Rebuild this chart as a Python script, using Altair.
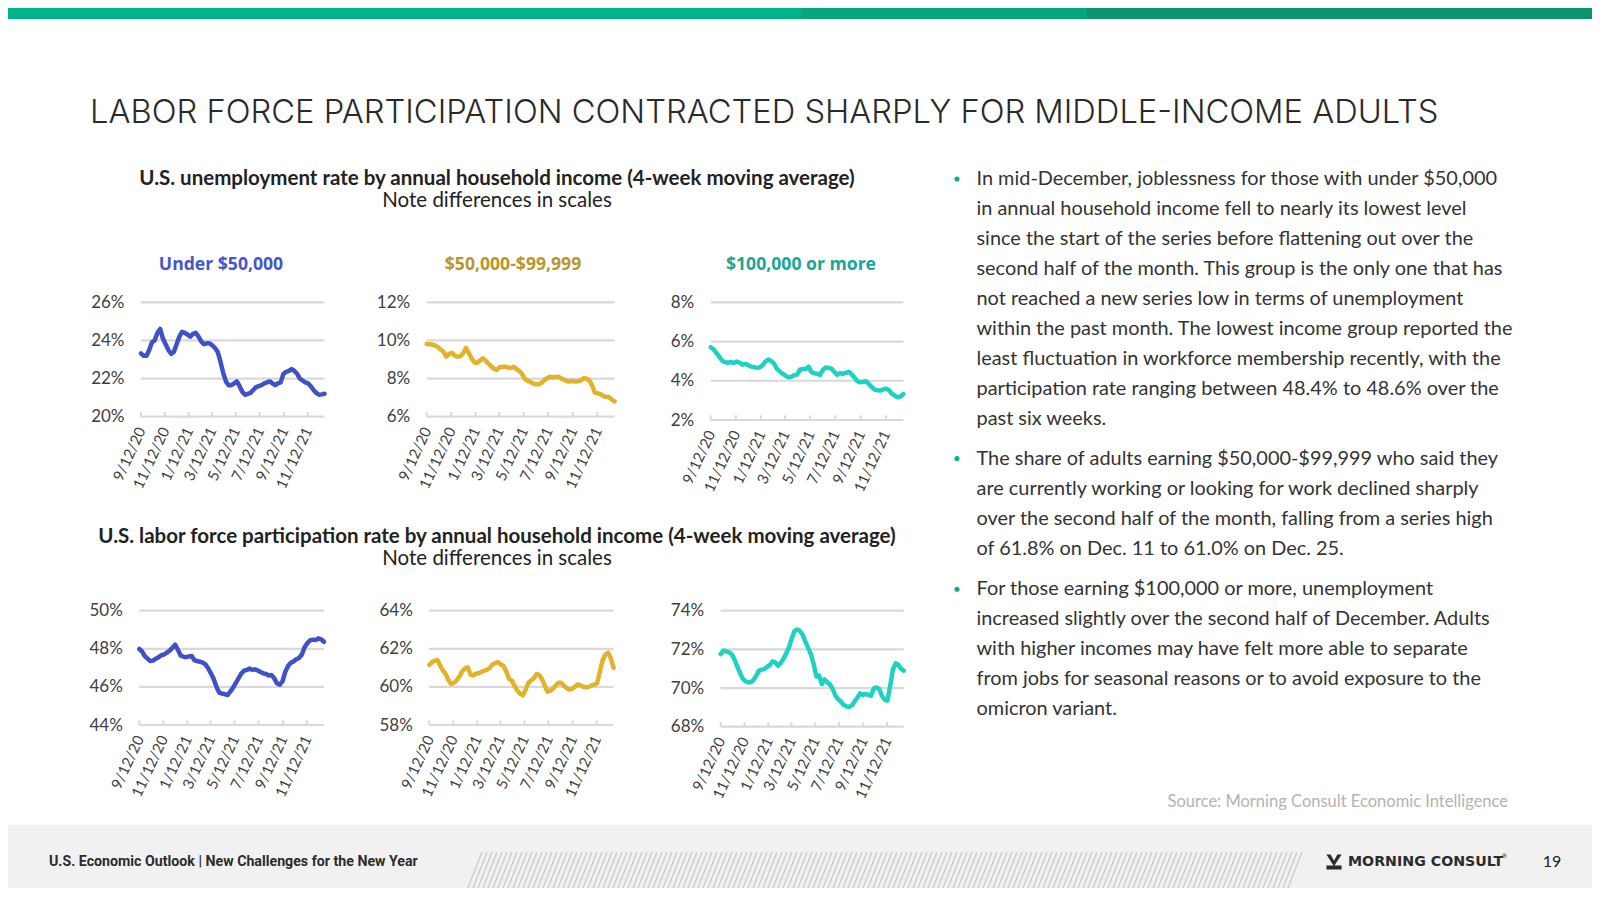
import altair as alt
import pandas as pd

# ---------------- data ----------------
week_dates = pd.date_range("2020-09-12", "2021-12-25", freq="7D")
tick_dates = ["2020-09-12", "2020-11-12", "2021-01-12", "2021-03-12",
              "2021-05-12", "2021-07-12", "2021-09-12", "2021-11-12"]

unemp_under50 = [23.32, 23.2, 23.2, 23.5, 23.9, 24.0, 24.4, 24.6, 24.1, 23.8,
                 23.5, 23.3, 23.4, 23.8, 24.2, 24.45, 24.4, 24.3, 24.2, 24.35,
                 24.4, 24.2, 23.95, 23.8, 23.85, 23.85, 23.75, 23.6, 23.4, 22.9,
                 22.3, 21.85, 21.65, 21.65, 21.75, 21.85, 21.6, 21.3, 21.15, 21.2,
                 21.25, 21.4, 21.55, 21.6, 21.65, 21.75, 21.8, 21.85, 21.75, 21.65,
                 21.75, 21.8, 22.25, 22.35, 22.4, 22.5, 22.4, 22.25, 22.0, 21.9,
                 21.8, 21.75, 21.6, 21.4, 21.25, 21.15, 21.17, 21.2]
unemp_mid = [9.81, 9.8, 9.79, 9.73, 9.65, 9.52, 9.4, 9.15, 9.3, 9.35,
             9.2, 9.15, 9.17, 9.33, 9.6, 9.35, 9.06, 8.85, 8.82, 8.95,
             9.06, 8.95, 8.78, 8.64, 8.52, 8.45, 8.6, 8.62, 8.62, 8.58,
             8.55, 8.62, 8.5, 8.4, 8.25, 7.98, 7.88, 7.83, 7.74, 7.7,
             7.7, 7.78, 7.92, 8.02, 8.1, 8.06, 8.08, 8.1, 8.0, 7.95,
             7.86, 7.85, 7.87, 7.85, 7.86, 7.9, 8.02, 8.0, 7.9, 7.65,
             7.26, 7.22, 7.18, 7.08, 7.05, 7.03, 6.9, 6.8]
unemp_high = [5.71, 5.6, 5.42, 5.22, 5.02, 4.95, 4.92, 4.96, 4.9, 4.98,
              4.92, 4.82, 4.86, 4.8, 4.72, 4.7, 4.66, 4.68, 4.78, 4.98,
              5.08, 5.02, 4.88, 4.62, 4.47, 4.36, 4.26, 4.18, 4.2, 4.28,
              4.3, 4.56, 4.6, 4.6, 4.72, 4.45, 4.38, 4.36, 4.3, 4.55,
              4.68, 4.65, 4.62, 4.45, 4.3, 4.38, 4.36, 4.4, 4.46, 4.32,
              4.16, 3.98, 3.92, 3.95, 3.98, 3.84, 3.68, 3.55, 3.52, 3.5,
              3.56, 3.6, 3.52, 3.34, 3.24, 3.15, 3.2, 3.32]
lfpr_under50 = [47.99, 47.86, 47.62, 47.48, 47.36, 47.38, 47.48, 47.56, 47.66, 47.7,
                47.8, 47.9, 48.05, 48.22, 47.95, 47.65, 47.59, 47.56, 47.6, 47.62,
                47.4, 47.36, 47.32, 47.28, 47.18, 46.98, 46.7, 46.42, 46.01, 45.7,
                45.65, 45.62, 45.57, 45.75, 45.95, 46.2, 46.45, 46.7, 46.85, 46.89,
                46.96, 46.9, 46.92, 46.86, 46.78, 46.71, 46.68, 46.6, 46.62, 46.45,
                46.18, 46.12, 46.3, 46.8, 47.1, 47.27, 47.34, 47.45, 47.52, 47.7,
                48.08, 48.3, 48.45, 48.48, 48.46, 48.55, 48.5, 48.37]
lfpr_mid = [61.15, 61.3, 61.37, 61.4, 61.1, 60.85, 60.67, 60.34, 60.15, 60.22,
            60.36, 60.55, 60.83, 60.97, 61.02, 60.65, 60.6, 60.7, 60.72, 60.8,
            60.85, 60.9, 61.0, 61.18, 61.25, 61.3, 61.18, 61.1, 60.8, 60.42,
            60.33, 60.05, 59.8, 59.65, 59.55, 59.85, 60.2, 60.35, 60.45, 60.68,
            60.62, 60.4, 60.05, 59.75, 59.8, 59.92, 60.08, 60.22, 60.2, 60.05,
            59.92, 59.86, 59.9, 60.02, 60.14, 60.08, 60.01, 59.98, 60.0, 60.08,
            60.12, 60.19, 60.8, 61.4, 61.7, 61.8, 61.5, 61.0]
lfpr_high = [71.76, 71.93, 71.9, 71.85, 71.75, 71.5, 71.15, 70.8, 70.5, 70.36,
             70.3, 70.3, 70.41, 70.64, 70.9, 70.95, 70.98, 71.1, 71.19, 71.38,
             71.32, 71.15, 71.3, 71.52, 71.8, 72.12, 72.57, 72.95, 73.03, 72.95,
             72.75, 72.38, 72.08, 71.75, 71.25, 70.6, 70.65, 70.2, 70.45, 70.3,
             70.18, 69.95, 69.6, 69.42, 69.3, 69.12, 69.05, 69.03, 69.1, 69.3,
             69.5, 69.72, 69.65, 69.7, 69.65, 69.6, 69.98, 70.03, 69.95, 69.6,
             69.4, 69.35, 70.1, 70.95, 71.28, 71.2, 71.0, 70.9]

panel_titles = ["Under $50,000", "$50,000-$99,999", "$100,000 or more"]

para1 = ["In mid-December, joblessness for those with under $50,000",
         "in annual household income fell to nearly its lowest level",
         "since the start of the series before flattening out over the",
         "second half of the month. This group is the only one that has",
         "not reached a new series low in terms of unemployment",
         "within the past month. The lowest income group reported the",
         "least fluctuation in workforce membership recently, with the",
         "participation rate ranging between 48.4% to 48.6% over the",
         "past six weeks."]
para2 = ["The share of adults earning $50,000-$99,999 who said they",
         "are currently working or looking for work declined sharply",
         "over the second half of the month, falling from a series high",
         "of 61.8% on Dec. 11 to 61.0% on Dec. 25."]
para3 = ["For those earning $100,000 or more, unemployment",
         "increased slightly over the second half of December. Adults",
         "with higher incomes may have felt more able to separate",
         "from jobs for seasonal reasons or to avoid exposure to the",
         "omicron variant."]

# ---------------- styling ----------------
W, H = 1584, 880
M = 8
FONT = "Lato"
BLUE, GOLD, TEAL = "#4050C8", "#E3B22B", "#1ED2C3"
BLUE_T, GOLD_T, TEAL_T = "#4456C9", "#B8962C", "#1AA697"
GRID = "#D9D9D9"
LABEL = "#404040"
GREEN = "#00B388"


def P(v):
    return v - M


ONE = pd.DataFrame({"a": [0]})
DSTART = alt.DateTime(year=2020, month=9, date=12)
DEND = alt.DateTime(year=2021, month=12, date=25)
TICK_DT = [alt.DateTime(year=int(d[:4]), month=int(d[5:7]), date=int(d[8:]))
           for d in tick_dates]


def text(t, x, y, size, color, weight="normal", align="left",
         baseline="middle", font=FONT, lh=None):
    kw = dict(align=align, baseline=baseline, font=font, fontSize=size,
              fontWeight=weight, color=color)
    if lh:
        kw["lineHeight"] = lh
    return alt.Chart(ONE).mark_text(**kw).encode(
        x=alt.value(P(x)), y=alt.value(P(y)), text=alt.value(t))


def rect(x0, x1, y0, y1, color):
    return alt.Chart(ONE).mark_rect(color=color).encode(
        x=alt.value(P(x0)), x2=alt.value(P(x1)),
        y=alt.value(P(y0)), y2=alt.value(P(y1)))


def hatch(x0, x1, y0, y1, step, lean, color, width):
    # decorative diagonal hatching of the slide's footer band
    xs = list(range(int(x0), int(x1), step))
    df = pd.DataFrame({"xa": [P(x) for x in xs],
                       "xb": [P(x + lean) for x in xs]})
    return alt.Chart(df).mark_rule(color=color, strokeWidth=width).encode(
        x=alt.X("xa:Q", scale=None), x2="xb:Q",
        y=alt.value(P(y1)), y2=alt.value(P(y0)))


def panel(values, color, ymin, ymax, x0, x1, ytop, ybot):
    xs = alt.Scale(domain=[DSTART, DEND], range=[P(x0), P(x1)])
    ys = alt.Scale(domain=[ymin, ymax], range=[P(ybot), P(ytop)],
                   nice=False, zero=False)
    gvals = list(range(ymin, ymax + 1, 2))
    gdf = pd.DataFrame({"v": gvals,
                        "s": [pd.Timestamp("2020-09-12")] * len(gvals),
                        "e": [pd.Timestamp("2021-12-25")] * len(gvals)})
    grid = alt.Chart(gdf).mark_rule(color=GRID, strokeWidth=2.2).encode(
        x=alt.X("s:T", scale=xs, axis=None),
        x2="e:T",
        y=alt.Y("v:Q", scale=ys, axis=alt.Axis(
            orient="left", offset=-P(x0), values=gvals,
            labelExpr="datum.value + '%'", domain=False, ticks=False,
            tickSize=0, grid=False, labelPadding=17, labelFont=FONT,
            labelFontSize=17, labelColor=LABEL, title=None)))
    tdf = pd.DataFrame({"d": pd.to_datetime(tick_dates),
                        "y0": [ymin] * len(tick_dates),
                        "y1": [ymin + 0.24] * len(tick_dates)})
    ticks = alt.Chart(tdf).mark_rule(color=GRID, strokeWidth=2).encode(
        x=alt.X("d:T", scale=xs, axis=None),
        y=alt.Y("y0:Q", scale=ys, axis=None), y2="y1:Q")
    df = pd.DataFrame({"date": week_dates, "v": values})
    line = alt.Chart(df).mark_line(
        color=color, strokeWidth=4.5, strokeCap="round", strokeJoin="round"
    ).encode(
        x=alt.X("date:T", scale=xs, axis=alt.Axis(
            orient="bottom", offset=P(ybot) - H, values=TICK_DT,
            format="%-m/%-d/%y", labelAngle=295, labelAlign="right",
            labelBaseline="middle", labelPadding=11, labelFlush=False,
            labelOverlap=False, domain=False, ticks=False, tickSize=0,
            grid=False, labelFont=FONT, labelFontSize=15,
            labelColor=LABEL, title=None)),
        y=alt.Y("v:Q", scale=ys, axis=None))
    return [grid, ticks, line]


layers = []
# background bands
layers.append(rect(M, 801, M, 19, GREEN))
layers.append(rect(801, 1087, M, 19, "#07A47E"))
layers.append(rect(1087, 1600 - M, M, 19, "#0B9270"))
layers.append(rect(M, 1600 - M, 824.5, H + M, "#F1F1F1"))
layers.append(hatch(468, 1290, 852, H + M, 5, 14, "#C8C8C8", 1.2))

# title
layers.append(text("LABOR FORCE PARTICIPATION CONTRACTED SHARPLY FOR MIDDLE-INCOME ADULTS",
                   90, 122.5, 32.7, "#2A2A2A", weight=300, baseline="alphabetic",
                   font="Inter"))

# section titles
layers.append(text("U.S. unemployment rate by annual household income (4-week moving average)",
                   497, 178.5, 20.5, "#222222", weight="bold", align="center"))
layers.append(text("Note differences in scales", 497, 201, 20.5, "#222222", align="center"))
layers.append(text("U.S. labor force participation rate by annual household income (4-week moving average)",
                   497, 536.7, 20.5, "#222222", weight="bold", align="center"))
layers.append(text("Note differences in scales", 497, 559, 20.5, "#222222", align="center"))

# panel titles
for t, xc, c in zip(panel_titles, [221, 513, 801], [BLUE_T, GOLD_T, TEAL_T]):
    layers.append(text(t, xc, 264.5, 17.6, c, weight="bold", align="center",
                       font="Open Sans"))

# panels
specs = [
    (unemp_under50, BLUE, 20, 26, 141.0, 324.5, 302.3, 416.7),
    (unemp_mid, GOLD, 6, 12, 426.7, 614.5, 302.3, 416.7),
    (unemp_high, TEAL, 2, 8, 710.7, 903.4, 302.3, 420.0),
    (lfpr_under50, BLUE, 44, 50, 139.3, 323.9, 610.7, 725.0),
    (lfpr_mid, GOLD, 58, 64, 429.3, 613.6, 610.7, 725.0),
    (lfpr_high, TEAL, 68, 74, 720.7, 903.8, 610.7, 726.7),
]
for s in specs:
    layers.extend(panel(*s))

# bullet text
for para, yb in [(para1, 185), (para2, 464.6), (para3, 595.2)]:
    layers.append(text(para, 976.5, yb, 19.9, "#333333", baseline="alphabetic", lh=30))
    layers.append(alt.Chart(ONE).mark_circle(color=GREEN, size=26, opacity=1).encode(
        x=alt.value(P(957)), y=alt.value(P(yb - 6))))

# source
layers.append(text("Source: Morning Consult Economic Intelligence", 1508, 802, 16.5,
                   "#B3B3B3", align="right"))

# footer
layers.append(text("U.S. Economic Outlook | New Challenges for the New Year", 49, 862,
                   14.2, "#2B2B2B", weight="bold", font="Roboto"))
layers.append(alt.Chart(ONE).mark_point(
    shape="M-1,-1L-0.45,-1L0,-0.15L0.45,-1L1,-1L0,0.55Z M-1,0.45L1,0.45L1,1L-1,1Z",
    filled=True, color="#2B2B2B", size=230, opacity=1).encode(
    x=alt.value(P(1334)), y=alt.value(P(862))))
layers.append(text("MORNING CONSULT", 1348, 862, 14.2, "#2B2B2B", weight="bold",
                   font="DejaVu Sans"))
layers.append(text("®", 1502, 856, 6, "#2B2B2B"))
layers.append(text("19", 1552, 862, 16, "#222222", align="center"))

chart = alt.layer(*layers).resolve_scale(
    x="independent", y="independent"
).resolve_axis(
    x="independent", y="independent"
).properties(
    width=W, height=H, padding=0, background="white",
    autosize=alt.AutoSizeParams(type="none")
).configure_view(stroke=None)

chart.save("out.html", embed_options={"renderer": "svg", "actions": False})
